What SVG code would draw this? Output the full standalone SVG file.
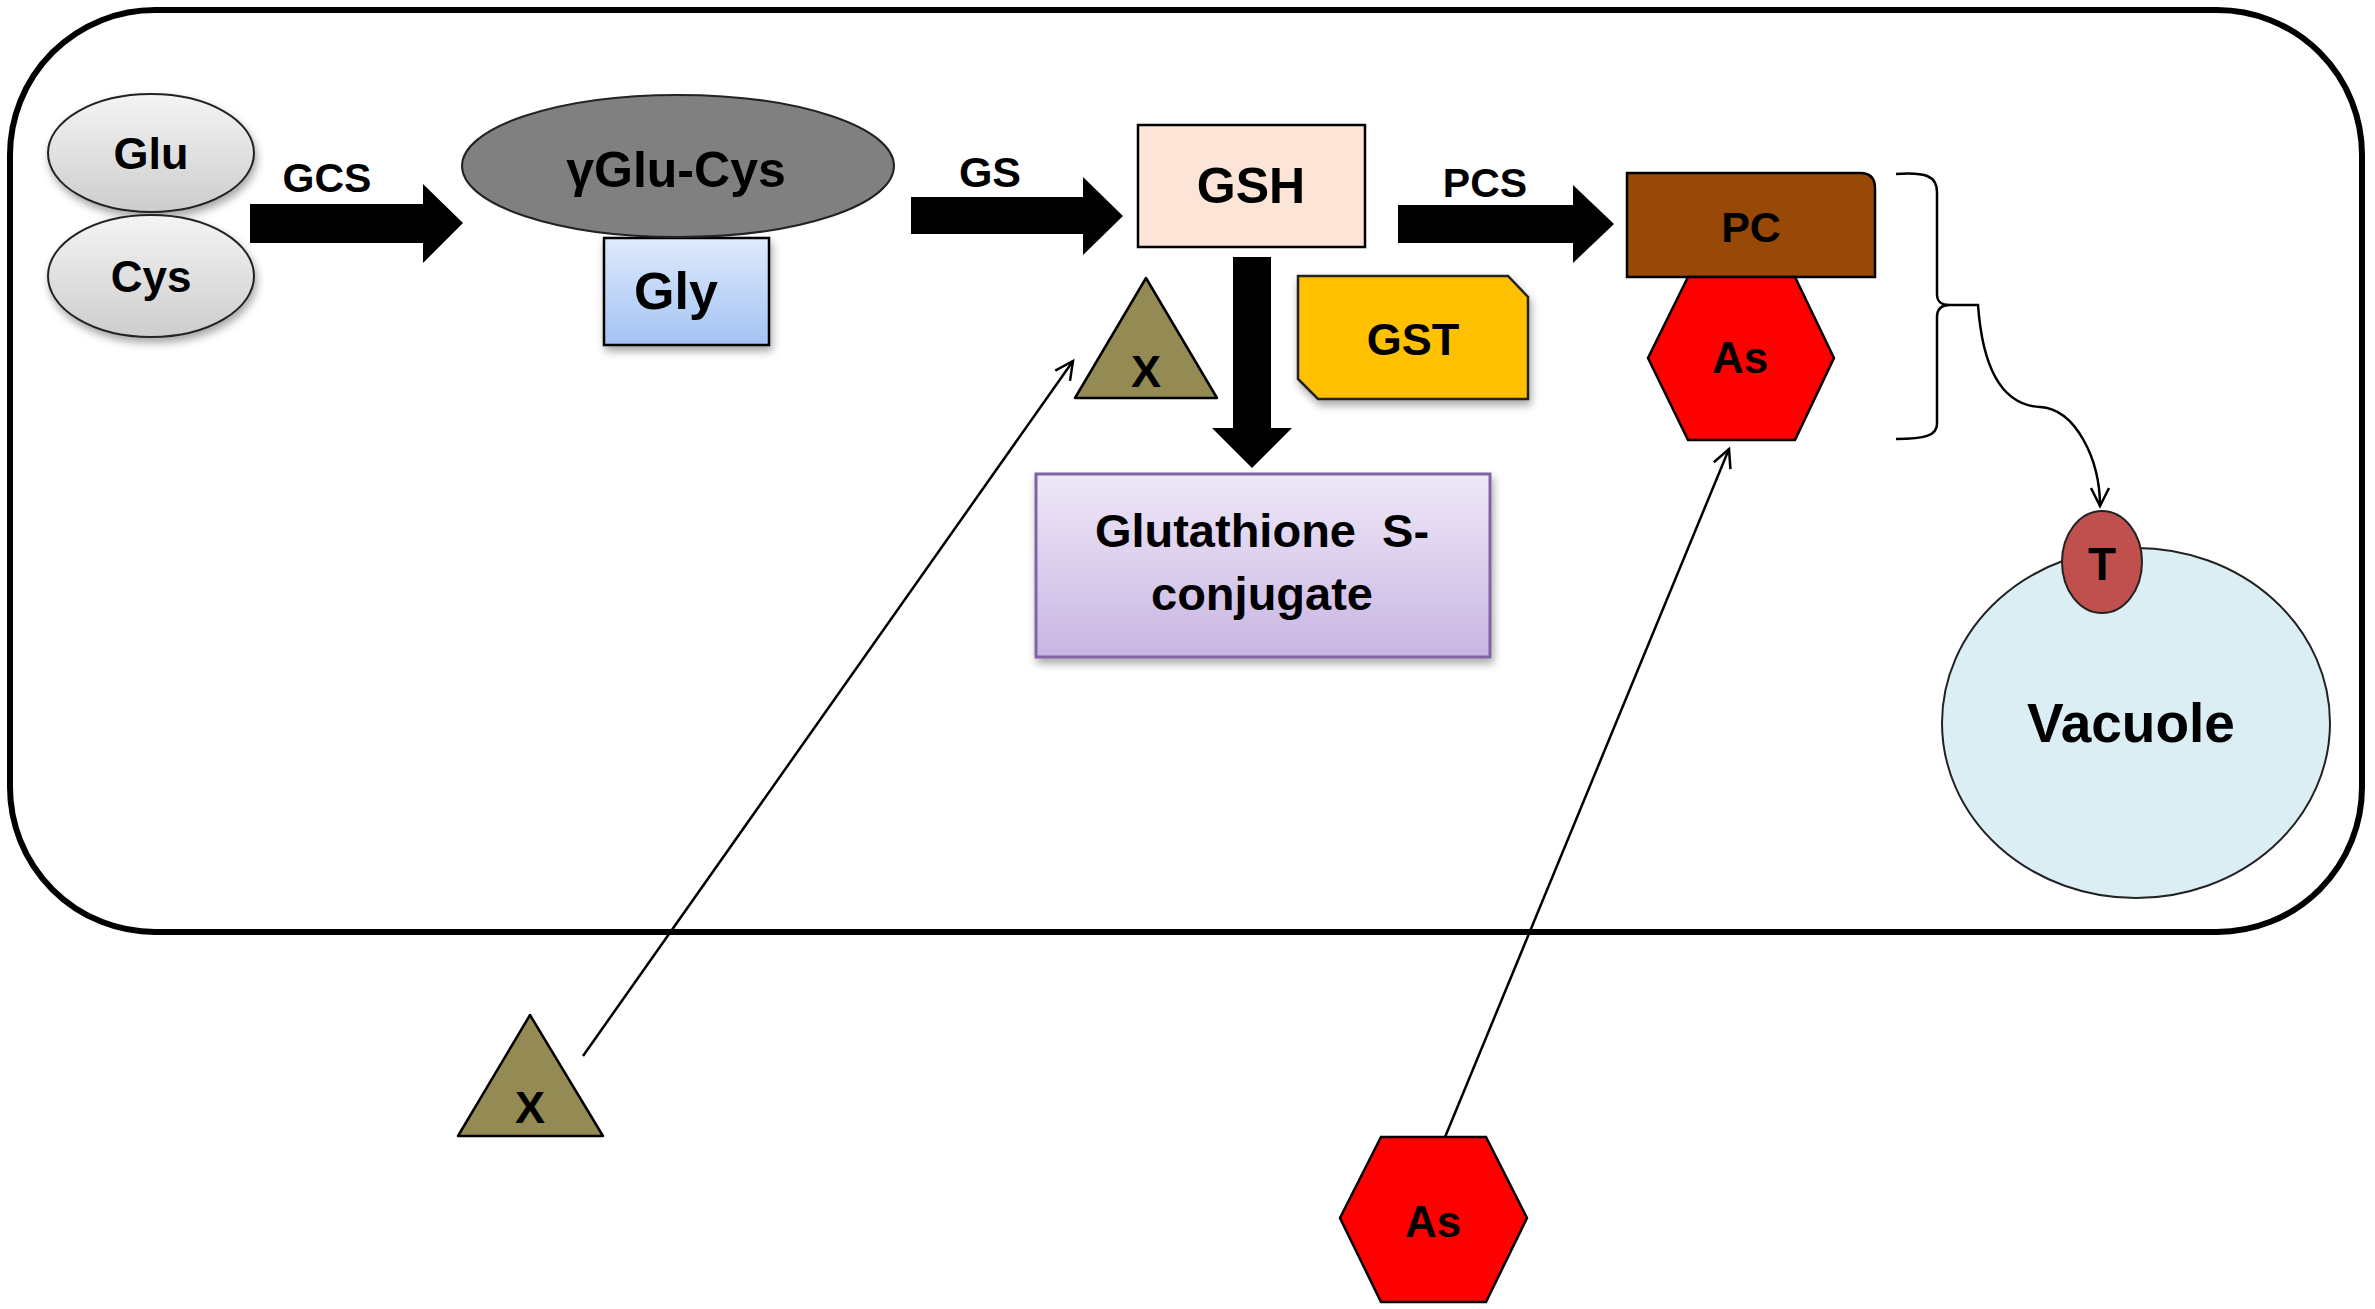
<svg xmlns="http://www.w3.org/2000/svg" width="2375" height="1309" viewBox="0 0 2375 1309">
<defs>
<style>
text{font-family:"Liberation Sans",Arial,sans-serif;font-weight:bold;fill:#000;text-anchor:middle}
.blk{fill:#000;stroke:none}
.thin{fill:none;stroke:#000;stroke-width:2.5}
.edge{stroke:#222;stroke-width:2}
</style>
<linearGradient id="gGray" x1="0" y1="0" x2="0" y2="1"><stop offset="0" stop-color="#f4f4f4"/><stop offset="1" stop-color="#cdcdcd"/></linearGradient>
<linearGradient id="gBlue" x1="0" y1="0" x2="0" y2="1"><stop offset="0" stop-color="#dfeafc"/><stop offset="1" stop-color="#a2c3f3"/></linearGradient>
<linearGradient id="gLav" x1="0" y1="0" x2="0" y2="1"><stop offset="0" stop-color="#efe8f8"/><stop offset="1" stop-color="#c8b5e2"/></linearGradient>
<filter id="sh" x="-20%" y="-20%" width="140%" height="150%"><feDropShadow dx="2" dy="5" stdDeviation="4" flood-color="#000" flood-opacity="0.35"/></filter>
<marker id="open" viewBox="0 0 24 24" refX="21" refY="12" markerWidth="24" markerHeight="24" markerUnits="userSpaceOnUse" orient="auto"><path d="M3 3 L21 12 L3 21" fill="none" stroke="#000" stroke-width="2.5"/></marker>
</defs>
<rect width="2375" height="1309" fill="#fff"/>
<g id="cell"><rect x="10" y="10" width="2352" height="922" rx="145" ry="145" fill="none" stroke="#000" stroke-width="6"/></g>

<g id="connectors">
<polygon class="blk" points="250,204 423,204 423,184 463,223 423,263 423,243 250,243"/>
<text x="327" y="192" font-size="41">GCS</text>
<polygon class="blk" points="911,197 1083,197 1083,177 1123,216 1083,255 1083,234 911,234"/>
<text x="990" y="187" font-size="43">GS</text>
<polygon class="blk" points="1398,205 1573,205 1573,185 1614,224 1573,263 1573,243 1398,243"/>
<text x="1485" y="197" font-size="41">PCS</text>
<polygon class="blk" points="1233,257 1271,257 1271,428 1292,428 1252,468 1212,428 1233,428"/>
<line class="thin" x1="583" y1="1056" x2="1073" y2="361" marker-end="url(#open)"/>
<line class="thin" x1="1443" y1="1142" x2="1729" y2="449" marker-end="url(#open)"/>
<path class="thin" d="M1896 174 C1926 172 1937 176 1937 192 L1937 294 C1937 302 1941 305 1950 305 C1941 305 1937 309 1937 317 L1937 424 C1937 435 1926 439 1896 439"/>
<path class="thin" d="M1950 305 L1978 305 C1982 360 1998 405 2040 407 C2076 409 2100 460 2100 506" marker-end="url(#open)"/>
</g>

<g id="glu"><ellipse cx="151" cy="153" rx="103" ry="59" fill="url(#gGray)" class="edge" filter="url(#sh)"/><text x="151" y="169" font-size="45">Glu</text></g>
<g id="cys"><ellipse cx="151" cy="276" rx="103" ry="61" fill="url(#gGray)" class="edge" filter="url(#sh)"/><text x="151" y="292" font-size="44">Cys</text></g>
<g id="gly"><rect x="604" y="238" width="165" height="107" fill="url(#gBlue)" stroke="#000" stroke-width="2.5" filter="url(#sh)"/><text x="676" y="309" font-size="52">Gly</text></g>
<g id="gluCys"><ellipse cx="678" cy="166" rx="216" ry="71" fill="#808080" class="edge"/><text x="676" y="187" font-size="50">γGlu-Cys</text></g>
<g id="gsh"><rect x="1138" y="125" width="227" height="122" fill="#fce4d6" stroke="#000" stroke-width="2.5"/><text x="1251" y="203" font-size="50">GSH</text></g>
<g id="xIn"><polygon points="1146,278 1217,398 1075,398" fill="#948a54" stroke="#000" stroke-width="2.5" stroke-linejoin="round"/><text x="1146" y="387" font-size="45">X</text></g>
<g id="gst"><polygon points="1298,276 1508,276 1528,297 1528,399 1318,399 1298,379" fill="#ffc000" stroke="#222" stroke-width="2.5" filter="url(#sh)"/><text x="1413" y="355" font-size="45">GST</text></g>
<g id="conjugate"><rect x="1036" y="474" width="454" height="183" fill="url(#gLav)" stroke="#8064a2" stroke-width="3" filter="url(#sh)"/><text x="1262" y="547" font-size="47" xml:space="preserve">Glutathione  S-</text><text x="1262" y="610" font-size="47">conjugate</text></g>
<g id="pc"><path d="M1627 173 L1860 173 Q1875 173 1875 188 L1875 277 L1627 277 Z" fill="#984807" stroke="#000" stroke-width="2.5"/><text x="1751" y="242" font-size="43">PC</text></g>
<g id="asIn"><polygon points="1688,277 1795,277 1834,358 1795,440 1688,440 1648,358" fill="#ff0000" stroke="#000" stroke-width="2.5"/><text x="1740" y="373" font-size="44">As</text></g>
<g id="vacuole"><ellipse cx="2136" cy="723" rx="194" ry="175" fill="#daeef3" stroke="#222" stroke-width="2"/><text x="2131" y="742" font-size="55">Vacuole</text></g>
<g id="t"><ellipse cx="2102" cy="562" rx="40" ry="51" fill="#c0504d" stroke="#222" stroke-width="2"/><text x="2102" y="580" font-size="46">T</text></g>
<g id="xOut"><polygon points="530,1015 603,1136 458,1136" fill="#948a54" stroke="#000" stroke-width="2.5" stroke-linejoin="round"/><text x="530" y="1123" font-size="45">X</text></g>
<g id="asOut"><polygon points="1381,1137 1486,1137 1527,1218 1486,1302 1381,1302 1340,1218" fill="#ff0000" stroke="#000" stroke-width="2.5"/><text x="1433" y="1237" font-size="44">As</text></g>
</svg>
